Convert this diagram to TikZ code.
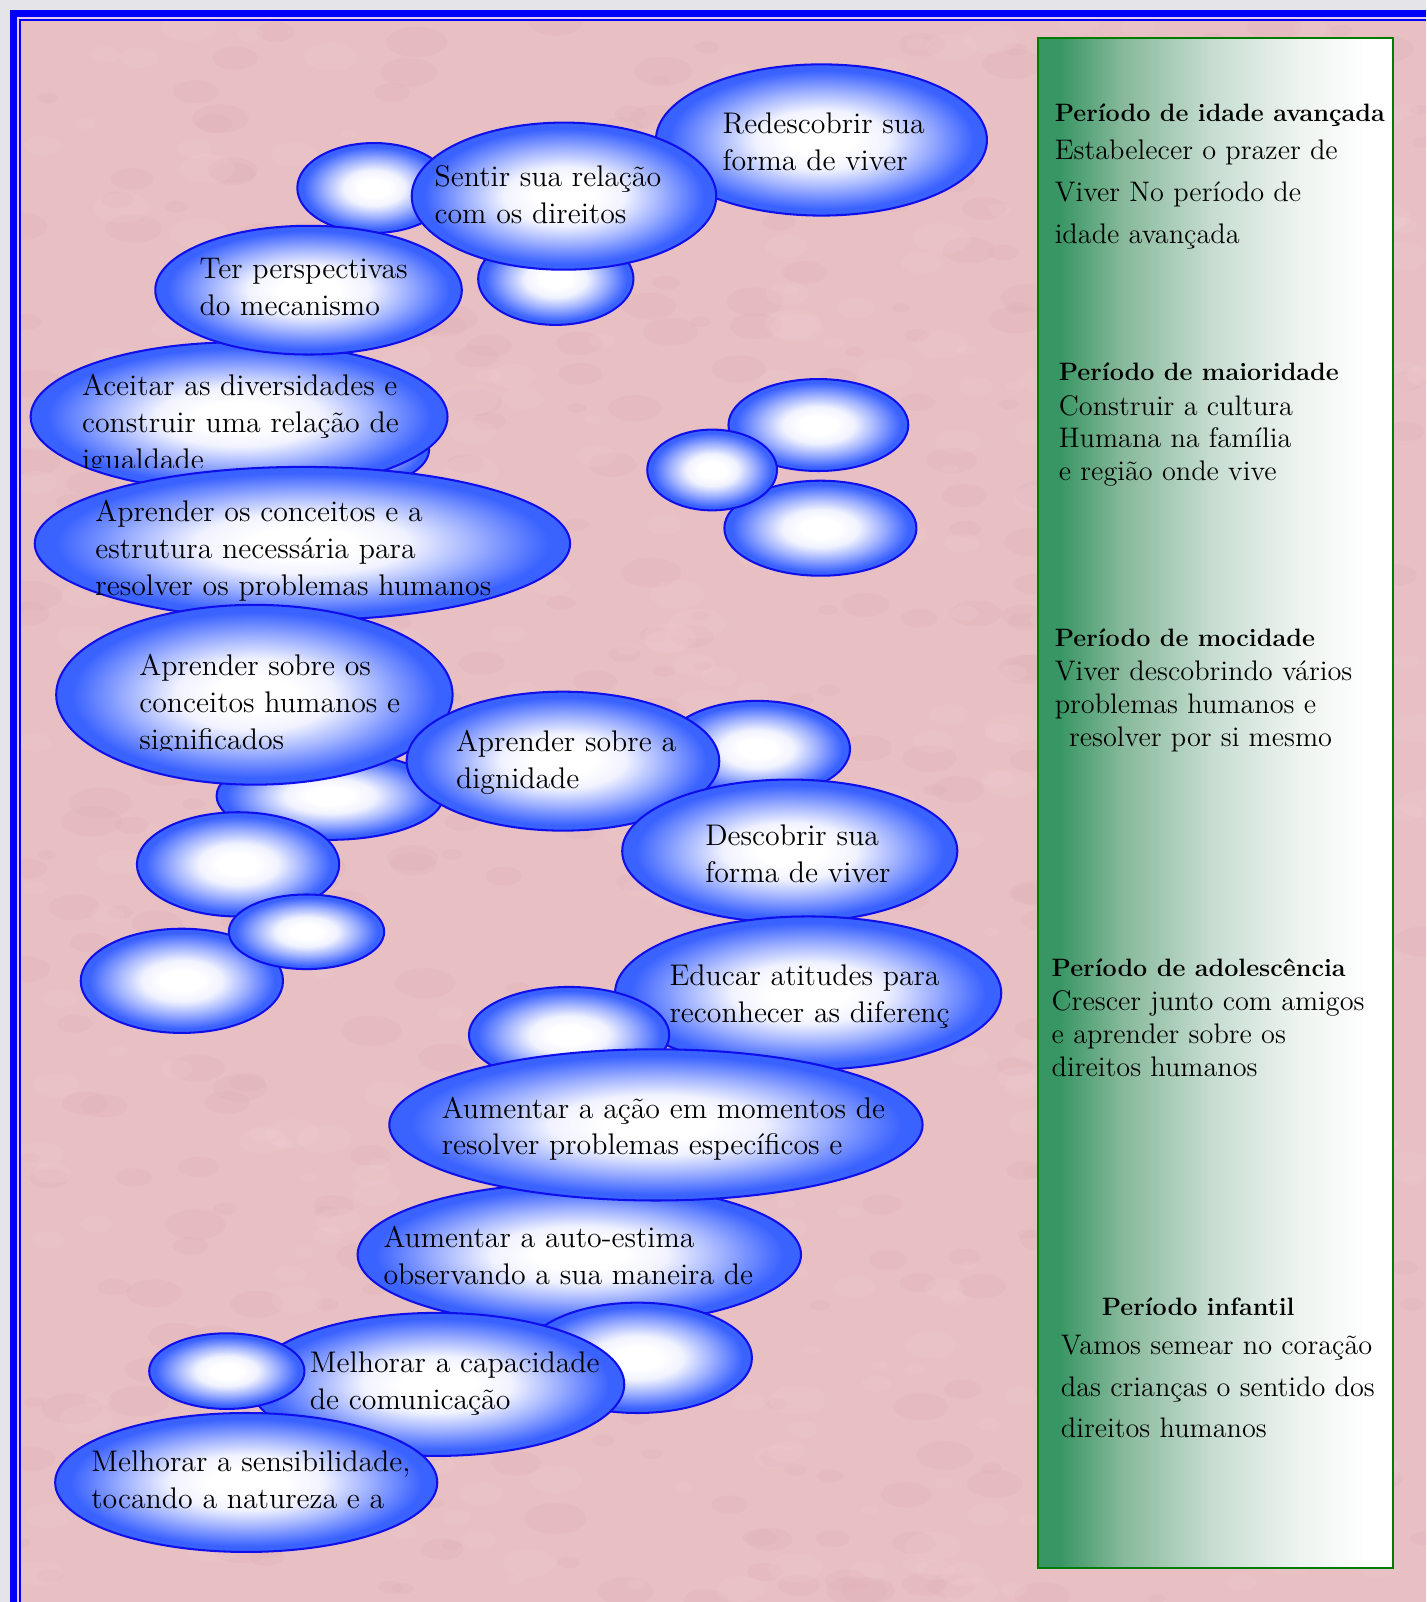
\documentclass[tikz,border=0pt]{standalone}
\usepackage{fontspec}
\usetikzlibrary{shapes.geometric}
\definecolor{bubout}{RGB}{58,98,255}
\definecolor{bubmid}{RGB}{160,178,255}
\definecolor{bubin}{RGB}{240,242,255}
\definecolor{bubline}{RGB}{15,15,235}
\definecolor{pinkbg}{RGB}{232,191,195}
\definecolor{pinkdk}{RGB}{212,160,166}
\definecolor{pinklt}{RGB}{246,214,217}
\definecolor{marble}{RGB}{228,228,233}
\definecolor{frameblue}{RGB}{0,0,250}
\definecolor{framepale}{RGB}{225,205,235}
\definecolor{pg0}{RGB}{56,150,100}
\definecolor{pg1}{RGB}{135,185,155}
\definecolor{pg2}{RGB}{200,222,210}
\definecolor{pg3}{RGB}{238,244,240}
\definecolor{panelline}{RGB}{0,125,0}
\pgfdeclareradialshading{bubble}{\pgfpoint{0bp}{0bp}}{color(0bp)=(white); color(5bp)=(white); color(10bp)=(bubin); color(16bp)=(bubmid); color(23bp)=(bubout); color(25bp)=(bubout); color(50bp)=(bubout)}
\pgfdeclarehorizontalshading{panelsh}{100bp}{color(0bp)=(pg0); color(28bp)=(pg0); color(37bp)=(pg1); color(50bp)=(pg2); color(62bp)=(pg3); color(72bp)=(white); color(100bp)=(white)}
\tikzset{
  bub/.style={ellipse, draw=bubline, line width=1pt, shade, shading=bubble, inner sep=0pt, outer sep=0pt},
  btxt/.style={anchor=north west, inner sep=0pt, align=left, font=\fontsize{14.6}{18}\selectfont},
  ptxtA/.style={anchor=north west, inner sep=0pt, align=left, font=\fontsize{13.85}{20.5}\selectfont},
  ptxtB/.style={anchor=north west, inner sep=0pt, align=left, font=\fontsize{13.85}{16}\selectfont},
  phead/.style={anchor=base west, inner sep=0pt, font=\fontsize{12.3}{15}\selectfont\bfseries},
  panel/.style={rectangle, draw=panelline, line width=1pt, shade, shading=panelsh, inner sep=0pt, minimum width=173.5pt, minimum height=749pt},
}
\newcommand{\bub}[5]{\node[bub, minimum width=#4pt, minimum height=#5pt] (#1) at (#2,#3) {};}
\begin{document}
\begin{tikzpicture}[x=0.5pt,y=-0.5pt]
\useasboundingbox (0,0) rectangle (1396,1568);
% background and frame
\fill[marble] (0,0) rectangle (1396,1568);
\fill[frameblue] (9.8,9.8) rectangle (1396,1568);
\fill[framepale] (17,17) rectangle (1396,1568);
\fill[frameblue] (18.8,18.8) rectangle (1396,1568);
\fill[pinkbg] (20.8,20.8) rectangle (1396,1568);
% faint mottled texture of the pink paper
\begin{scope}
\clip (20.8,20.8) rectangle (1396,1568);
\pgfmathsetseed{7}
\foreach \k in {1,...,500}{
  \pgfmathsetmacro{\px}{20+1376*rnd}
  \pgfmathsetmacro{\py}{20+1548*rnd}
  \pgfmathsetmacro{\pr}{5+14*rnd}
  \fill[pinkdk, opacity=0.10] (\px,\py) ellipse ({\pr*1.6} and {\pr*0.8});
}
\foreach \k in {1,...,400}{
  \pgfmathsetmacro{\px}{20+1376*rnd}
  \pgfmathsetmacro{\py}{20+1548*rnd}
  \pgfmathsetmacro{\pr}{5+14*rnd}
  \fill[pinklt, opacity=0.14] (\px,\py) ellipse ({\pr*1.5} and {\pr*0.8});
}
\end{scope}
% right panel
\node[panel] (panel) at (1189.5,786) {};
\node[phead] (h1) at (1032,119) {Período de idade avançada};
\node[ptxtA] (b1) at (1032,127.3) {\strut Estabelecer o prazer de\\Viver No período de\\idade avançada};
\node[phead] (h2) at (1036,372) {Período de maioridade};
\node[ptxtB] (b2) at (1036,383.6) {\strut Construir a cultura\\Humana na família\\e região onde vive};
\node[phead] (h3) at (1032,633) {Período de mocidade};
\node[ptxtB] (b3) at (1032,643.6) {\strut Viver descobrindo vários\\problemas humanos e\\\hspace*{7pt}resolver por si mesmo};
\node[phead] (h4) at (1029,956) {Período de adolescência};
\node[ptxtB] (b4) at (1029,966.6) {\strut Crescer junto com amigos\\e aprender sobre os\\direitos humanos};
\node[phead] (h5) at (1078,1288) {Período infantil};
\node[ptxtA] (b5) at (1038,1296.3) {\strut Vamos semear no coração\\das crianças o sentido dos\\direitos humanos};
% bubbles, top group
\bub{e1}{804}{137}{162}{74}
\node[btxt] (t1) at (707,104.8) {\strut Redescobrir sua\\forma de viver};
\bub{e2}{366}{184}{75}{44}
\bub{e3}{544}{273}{76}{45}
\bub{e4}{552}{192}{149}{72}
\node[btxt] (t4) at (425,156.8) {\strut Sentir sua relação\\com os direitos};
\bub{ea0}{330}{440}{90}{40}
\bub{ea}{234}{408}{204}{73}
\begin{scope}
\clip (0,0) rectangle (1000,458);
\node[btxt] (ta) at (80,361.8) {\strut Aceitar as diversidades e\\construir uma relação de\\igualdade};
\end{scope}
\bub{e5}{302}{284}{150}{63}
\node[btxt] (t5) at (195,246.8) {\strut Ter perspectivas\\do mecanismo};
\bub{e6}{296}{532}{262}{75}
\node[btxt] (t6) at (93,484.8) {\strut Aprender os conceitos e a\\estrutura necessária para\\resolver os problemas humanos};
\bub{e8}{323}{779}{111}{43}
\bub{e7}{249}{680}{194}{88}
\begin{scope}
\clip (0,0) rectangle (1000,735);
\node[btxt] (t7) at (136,635.8) {\strut Aprender sobre os\\conceitos humanos e\\significados};
\end{scope}
\bub{e10}{741}{733}{91}{47}
\bub{e9}{551}{745}{153}{68}
\node[btxt] (t9) at (446,709.8) {\strut Aprender sobre a\\dignidade};
\bub{e11}{773}{833}{164}{70}
\node[btxt] (t11) at (690,801.8) {\strut Descobrir sua\\forma de viver};
\bub{e12}{233}{846}{99}{51}
\bub{e14}{178}{960}{99}{51}
\bub{e13}{300}{912}{76}{36.5}
% cluster
\bub{e23}{801}{416}{88}{45}
\bub{e24}{803}{517}{94}{46.5}
\bub{e25}{697}{460}{63.5}{39.5}
% lower group
\bub{e15}{791}{972}{189}{75}
\node[btxt] (t15) at (655,938.8) {\strut Educar atitudes para\\reconhecer as diferenç};
\bub{e16}{557}{1013}{98}{47}
\bub{e18}{567}{1228}{217}{70}
\node[btxt] (t18) at (375,1195.8) {\strut Aumentar a auto-estima\\observando a sua maneira de};
\bub{e17}{642}{1101}{261}{74}
\node[btxt] (t17) at (432,1068.8) {\strut Aumentar a ação em momentos de\\resolver problemas específicos e};
\bub{e19}{624}{1329}{112}{54}
\bub{e20}{428}{1355}{183}{70}
\node[btxt] (t20) at (303,1317.8) {\strut Melhorar a capacidade\\de comunicação};
\bub{e21}{222}{1342}{76}{37}
\bub{e22}{241}{1451}{187}{68}
\node[btxt] (t22) at (89,1414.8) {\strut Melhorar a sensibilidade,\\tocando a natureza e a};
\end{tikzpicture}
\end{document}
